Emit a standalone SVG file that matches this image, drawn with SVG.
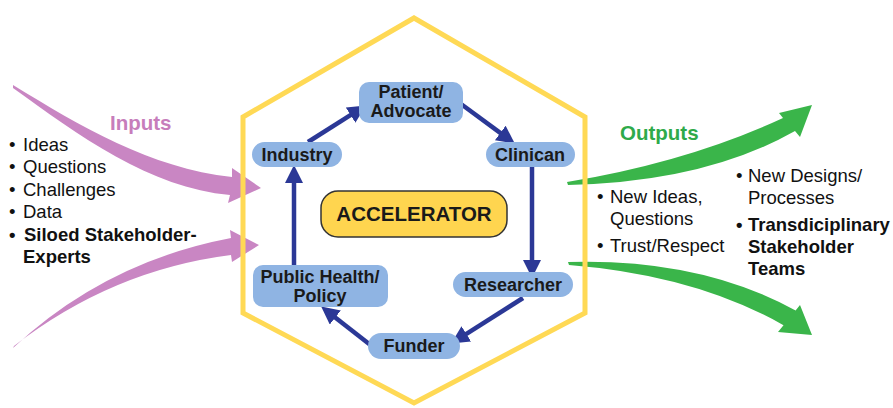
<svg xmlns="http://www.w3.org/2000/svg" width="893" height="408" viewBox="0 0 893 408">
<style>
.node rect{fill:#8FB4E3;}
.nt{font-family:"Liberation Sans",Arial,sans-serif;font-weight:bold;font-size:18px;fill:#1a1a1a;text-anchor:middle;}
.lt{font-family:"Liberation Sans",Arial,sans-serif;font-size:18.5px;fill:#111;}
.b{font-weight:bold;}
.conn line{stroke:#2B3896;stroke-width:4.5;marker-end:url(#ah);}
</style>
<defs>
<marker id="ah" markerUnits="userSpaceOnUse" markerWidth="20" markerHeight="20" refX="5" refY="9" orient="auto">
<path d="M0,0 L18,9 L0,18 Z" fill="#2B3896"/>
</marker>
</defs>
<rect width="893" height="408" fill="#ffffff"/>
<g id="flows">
<path d="M13,85 C80,126 150,168 232,177 L232,168 L261,188 L228,203 L230,195 C150,188 78,135 13,88 Z" fill="#C986C3"/>
<path d="M13,348 Q105,262 231,238 L230,230 L259,245 L232,262 L231,255 Q112,270 14,346 Z" fill="#C986C3"/>
<path d="M567,182 Q688,162 783,118 L779,113 L812,105 L800,137 L795,131 Q705,182 568,185 Z" fill="#3AB54A"/>
<path d="M568,262 Q700,258 795.6,310.4 L800,305 L812,335 L778,332 L783.5,325.2 Q695,275 569,265 Z" fill="#3AB54A"/>
</g>
<g id="hexagon">
<polygon points="414,18 585,117 585,313 414,403 243,313 243,117" fill="none" stroke="#FFD955" stroke-width="5"/>
</g>
<g class="conn" id="connectors">
<line x1="308" y1="142" x2="354.8" y2="112.4"/>
<line x1="461" y1="104" x2="504.3" y2="135.9"/>
<line x1="532" y1="167" x2="532" y2="265"/>
<line x1="523" y1="298" x2="462.1" y2="336.6"/>
<line x1="373" y1="347" x2="331.4" y2="314.4"/>
<line x1="294" y1="265" x2="294" y2="178"/>
</g>
<g id="accelerator">
<rect x="321" y="191" width="186" height="46" rx="17" fill="#FFD54F" stroke="#333" stroke-width="1.5"/>
<text x="414" y="221" class="nt" style="font-size:20.5px">ACCELERATOR</text>
</g>
<g class="node" id="patient">
<rect x="359" y="82" width="104" height="41" rx="10"/>
<text x="411" y="98" class="nt">Patient/</text>
<text x="411" y="117" class="nt">Advocate</text>
</g>
<g class="node" id="industry">
<rect x="252" y="142" width="90" height="25" rx="12.5"/>
<text x="297" y="161" class="nt">Industry</text>
</g>
<g class="node" id="clinican">
<rect x="486" y="142" width="89" height="25" rx="12.5"/>
<text x="530" y="161" class="nt">Clinican</text>
</g>
<g class="node" id="publichealth">
<rect x="253" y="265" width="135" height="42" rx="10"/>
<text x="320" y="283" class="nt">Public Health/</text>
<text x="320" y="302" class="nt">Policy</text>
</g>
<g class="node" id="researcher">
<rect x="453" y="272" width="120" height="25" rx="12.5"/>
<text x="513" y="291" class="nt">Researcher</text>
</g>
<g class="node" id="funder">
<rect x="368" y="333" width="92" height="26" rx="13"/>
<text x="414" y="352" class="nt">Funder</text>
</g>
<g id="inputs">
<text x="110" y="130" class="lt b" style="font-size:20.5px;fill:#C77DBB">Inputs</text>
<text class="lt"><tspan x="9" y="151">•</tspan><tspan x="23" y="151">Ideas</tspan></text>
<text class="lt"><tspan x="9" y="173">•</tspan><tspan x="23" y="173">Questions</tspan></text>
<text class="lt"><tspan x="9" y="196">•</tspan><tspan x="23" y="196">Challenges</tspan></text>
<text class="lt"><tspan x="9" y="218">•</tspan><tspan x="23" y="218">Data</tspan></text>
<text class="lt b"><tspan x="9" y="241">•</tspan><tspan x="24" y="241">Siloed Stakeholder-</tspan></text>
<text class="lt b" x="23" y="263">Experts</text>
</g>
<g id="outputs">
<text x="620" y="140" class="lt b" style="font-size:20.5px;fill:#2EAA4A">Outputs</text>
<text class="lt"><tspan x="597" y="203">•</tspan><tspan x="610" y="203">New Ideas,</tspan></text>
<text class="lt" x="610" y="225">Questions</text>
<text class="lt"><tspan x="597" y="252">•</tspan><tspan x="610" y="252">Trust/Respect</tspan></text>
<text class="lt"><tspan x="736" y="182">•</tspan><tspan x="748" y="182">New Designs/</tspan></text>
<text class="lt" x="748" y="204">Processes</text>
<text class="lt b"><tspan x="736" y="231">•</tspan><tspan x="748" y="231">Transdiciplinary</tspan></text>
<text class="lt b" x="748" y="253">Stakeholder</text>
<text class="lt b" x="748" y="275">Teams</text>
</g>
</svg>
